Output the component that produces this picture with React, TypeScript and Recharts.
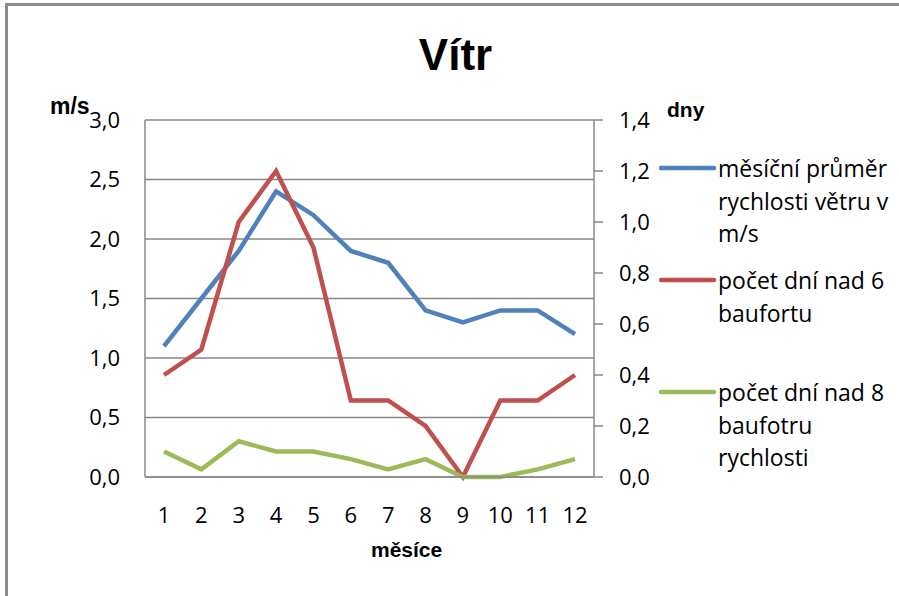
import React from "react";
import {
  LineChart, Line, XAxis, YAxis, CartesianGrid, Legend,
} from "recharts";

const months = ["1", "2", "3", "4", "5", "6", "7", "8", "9", "10", "11", "12"];
const avgSpeed = [1.1, 1.5, 1.9, 2.4, 2.2, 1.9, 1.8, 1.4, 1.3, 1.4, 1.4, 1.2];
const daysOver6 = [0.4, 0.5, 1.0, 1.2, 0.9, 0.3, 0.3, 0.2, 0, 0.3, 0.3, 0.4];
const daysOver8 = [0.1, 0.03, 0.14, 0.1, 0.1, 0.07, 0.03, 0.07, 0, 0, 0.03, 0.07];

const leftTicks = [0, 0.5, 1, 1.5, 2, 2.5, 3];
const rightTicks = [0, 0.2, 0.4, 0.6, 0.8, 1.0, 1.2, 1.4];

const seriesNames = [
  "měsíční průměr rychlosti větru v m/s",
  "počet dní nad 6 baufortu",
  "počet dní nad 8 baufotru rychlosti",
];
const legendLines = [
  ["měsíční průměr", "rychlosti větru v", "m/s"],
  ["počet dní nad 6", "baufortu"],
  ["počet dní nad 8", "baufotru", "rychlosti"],
];
const COLORS = ["#4F81BD", "#C0504D", "#9BBB59"];

const rows = months.map((m, i) => ({
  month: m,
  speed: avgSpeed[i],
  d6: daysOver6[i],
  d8: daysOver8[i],
}));

const fmt = (v: number) => v.toFixed(1).replace(".", ",");
const GRID = "#878787";
const FRAME = "#8c8c8c";
const tickFont = { fill: "#000", fontSize: 22, fontFamily: "Open Sans" };

function renderLegend() {
  return (
    <div style={{ fontFamily: "Open Sans", fontSize: 23, color: "#000" }}>
      {legendLines.map((lines, i) => (
        <div key={i} style={{ position: "relative", height: 112 }}>
          <svg width={58} height={32} style={{ position: "absolute", left: 0, top: 0 }}>
            <line x1={2} y1={16} x2={55} y2={16} stroke={COLORS[i]} strokeWidth={4.5} strokeLinecap="round" />
          </svg>
          <div style={{ position: "absolute", left: 59, top: 0, lineHeight: "32.5px", whiteSpace: "nowrap" }}>
            {lines.map((t, j) => <div key={j}>{t}</div>)}
          </div>
        </div>
      ))}
    </div>
  );
}

export default function App() {
  return (
    <div style={{ position: "absolute", left: 0, top: 0, width: 899, height: 596, background: "#fff", overflow: "hidden" }}>
      <div style={{ position: "absolute", left: 5, top: 3, width: 960, height: 660, boxSizing: "border-box", border: `3px solid ${FRAME}` }} />
      <div style={{ position: "absolute", left: 0, width: 899, top: 30, textAlign: "center", paddingLeft: 12, boxSizing: "border-box", fontFamily: "Liberation Sans", fontWeight: "bold", fontSize: 44 }}>
        Vítr
      </div>
      <div style={{ position: "absolute", left: 50, top: 93, fontFamily: "Liberation Sans", fontWeight: "bold", fontSize: 23 }}>m/s</div>
      <div style={{ position: "absolute", left: 667, top: 98, fontFamily: "Liberation Sans", fontWeight: "bold", fontSize: 21 }}>dny</div>
      <div style={{ position: "absolute", left: 371, top: 538, fontFamily: "Liberation Sans", fontWeight: "bold", fontSize: 21 }}>měsíce</div>
      <div style={{ position: "absolute", left: 0, top: 0 }}>
        <LineChart width={899} height={596} data={rows} margin={{ top: 120, right: 245, bottom: 79, left: 85 }}>
          <CartesianGrid yAxisId="left" vertical={false} stroke={GRID} strokeWidth={1.5} />
          <XAxis
            dataKey="month"
            height={40}
            padding={{ left: 19, right: 19 }}
            interval={0}
            tickLine={false}
            tickSize={0}
            tickMargin={30}
            axisLine={{ stroke: GRID, strokeWidth: 1.5 }}
            tick={tickFont}
          />
          <YAxis
            yAxisId="left"
            width={60}
            domain={[0, 3]}
            ticks={leftTicks}
            tickFormatter={fmt}
            tickLine={false}
            tickSize={0}
            tickMargin={25}
            axisLine={{ stroke: GRID, strokeWidth: 1.5 }}
            tick={tickFont}
          />
          <YAxis
            yAxisId="right"
            orientation="right"
            width={60}
            domain={[0, 1.4]}
            ticks={rightTicks}
            tickFormatter={fmt}
            tickSize={9}
            tickMargin={16}
            tickLine={{ stroke: GRID, strokeWidth: 1.5 }}
            axisLine={{ stroke: GRID, strokeWidth: 1.5 }}
            tick={tickFont}
          />
          <Line yAxisId="left" dataKey="speed" name={seriesNames[0]} stroke={COLORS[0]} strokeWidth={4.5} dot={false} isAnimationActive={false} />
          <Line yAxisId="right" dataKey="d6" name={seriesNames[1]} stroke={COLORS[1]} strokeWidth={4.5} dot={false} isAnimationActive={false} />
          <Line yAxisId="right" dataKey="d8" name={seriesNames[2]} stroke={COLORS[2]} strokeWidth={4.5} dot={false} isAnimationActive={false} />
          <Legend
            layout="vertical"
            align="center"
            verticalAlign="middle"
            content={renderLegend}
            wrapperStyle={{ left: 659, top: 152, width: 240, height: 340 }}
          />
        </LineChart>
      </div>
    </div>
  );
}
